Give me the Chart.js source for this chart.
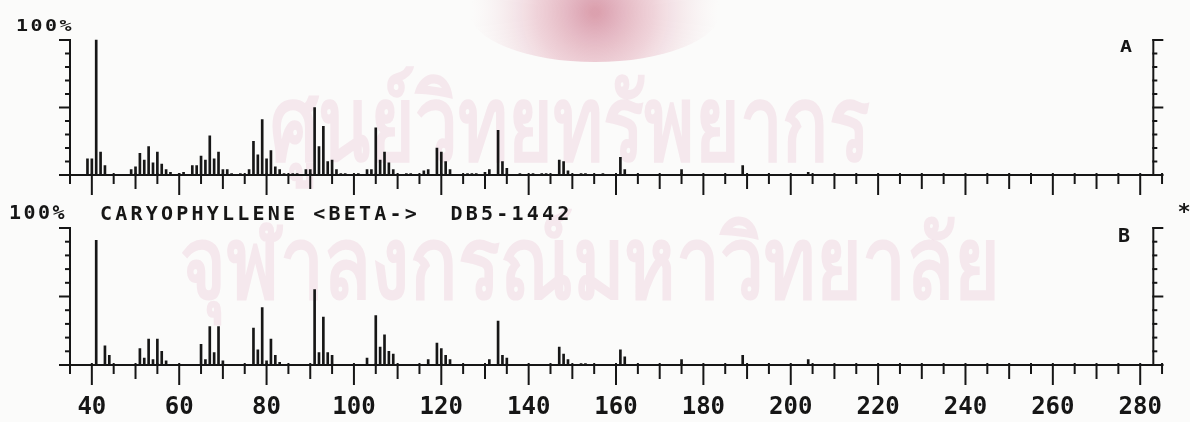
<!DOCTYPE html>
<html><head><meta charset="utf-8">
<script src="https://cdn.jsdelivr.net/npm/chart.js@4.4.1/dist/chart.umd.min.js"></script>
<style>
html,body{margin:0;padding:0;background:#fbfbfa;}
#wrap{position:relative;width:1190px;height:422px;overflow:hidden;}
canvas{display:block;}
</style></head><body>
<div id="wrap"><canvas id="c" width="1190" height="422"></canvas></div>
<script>
// ---- data ----
// panel A: sample spectrum (m/z, relative intensity %)
const mzA = [39,40,41,42,43,49,50,51,52,53,54,55,56,57,58,60,61,63,64,65,66,67,68,69,70,71,72,74,76,77,78,79,80,81,82,83,84,86,87,89,90,91,92,93,94,95,96,97,98,101,103,104,105,106,107,108,109,112,113,116,117,119,120,121,122,126,127,128,130,131,133,134,135,138,141,143,144,147,148,149,152,153,157,161,162,175,189,204];
const relA = [12,12,100,17,7,4,6,16,11,21,9,17,8,4,2,1,2,7,7,14,11,29,12,17,4,4,1,1,4,25,15,41,12,18,6,4,1,1,1,4,4,50,21,36,10,11,4,1,1,1,4,4,35,11,17,9,4,1,1,3,4,20,17,10,4,1,1,1,2,4,33,10,5,1,1,1,1,11,10,3,1,1,1,13,4,4,7,2];
// panel B: library spectrum CARYOPHYLLENE <BETA-> DB5-1442
const mzB = [41,43,44,51,52,53,54,55,56,57,65,66,67,68,69,70,77,78,79,80,81,82,83,91,92,93,94,95,103,105,106,107,108,109,117,119,120,121,122,131,133,134,135,147,148,149,152,153,161,162,175,189,204];
const relB = [91,14,7,12,5,19,4,19,10,3,15,4,28,9,28,3,27,11,42,3,19,7,2,55,9,35,9,7,5,36,13,22,10,8,4,16,12,7,4,4,32,7,5,13,8,4,1,1,11,6,4,7,4];
// axis tick labels
const xTickLabels = [40,60,80,100,120,140,160,180,200,220,240,260,280];
const yTickPercents = [0,10,20,30,40,50,60,70,80,90,100];
const xMinorStep = 5;
const titleB = 'CARYOPHYLLENE <BETA->  DB5-1442';
const watermark1 = 'ศูนย์วิทยทรัพยากร';
const watermark2 = 'จุฬาลงกรณ์มหาวิทยาลัย';

const INK = '#161616';
const MONO = '"DejaVu Sans Mono", "Liberation Mono", monospace';

function line(ctx, x1, y1, x2, y2) { ctx.beginPath(); ctx.moveTo(x1, y1); ctx.lineTo(x2, y2); ctx.stroke(); }
function txt(ctx, s, x, y, size, spacing, sy, align) {
  ctx.save();
  ctx.font = 'bold ' + size + 'px ' + MONO;
  ctx.letterSpacing = spacing + 'px';
  ctx.textAlign = align || 'left';
  ctx.textBaseline = 'middle';
  ctx.translate(x, y); ctx.scale(1, sy);
  ctx.fillStyle = INK;
  ctx.fillText(s, 0, 0);
  ctx.restore();
}
function fitText(ctx, s, cx, cy, w, h, color) {
  ctx.save();
  ctx.font = 'bold 100px "Noto Sans", "DejaVu Sans", sans-serif';
  ctx.textAlign = 'center'; ctx.textBaseline = 'middle';
  const m = ctx.measureText(s);
  ctx.translate(cx, cy); ctx.scale(w / m.width, h / 100);
  ctx.fillStyle = color;
  ctx.fillText(s, 0, 0);
  ctx.restore();
}

const decor = {
  id: 'decor',
  beforeDatasetsDraw(chart) {
    const ctx = chart.ctx;
    ctx.save();
    const g = ctx.createRadialGradient(595, 12, 4, 595, 12, 125);
    g.addColorStop(0, 'rgba(175,35,70,0.42)');
    g.addColorStop(0.45, 'rgba(205,95,125,0.26)');
    g.addColorStop(1, 'rgba(240,200,210,0)');
    ctx.fillStyle = g;
    ctx.beginPath(); ctx.ellipse(595, 12, 125, 50, 0, 0, Math.PI * 2); ctx.fill();
    fitText(ctx, watermark1, 570, 130, 600, 105, 'rgba(215,130,170,0.15)');
    fitText(ctx, watermark2, 590, 270, 820, 100, 'rgba(215,130,170,0.15)');
    ctx.restore();
  }
};

const frames = {
  id: 'frames',
  afterDatasetsDraw(chart) {
    const ctx = chart.ctx;
    const x = chart.scales.x;
    ctx.save();
    ctx.strokeStyle = INK; ctx.lineWidth = 2; ctx.lineCap = 'square';
    const L = x.getPixelForValue(x.min), R = x.getPixelForValue(x.max);
    [chart.scales.yA, chart.scales.yB].forEach(ys => {
      const y0 = ys.getPixelForValue(0), y100 = ys.getPixelForValue(100);
      line(ctx, L, y100, L, y0);
      line(ctx, R, y100, R, y0);
      line(ctx, L - 10, y0, R + 9, y0);
      yTickPercents.forEach(p => {
        const yy = ys.getPixelForValue(p);
        const long = p % 50 === 0;
        line(ctx, L - (long ? 10 : 4), yy, L, yy);
        line(ctx, R, yy, R + (long ? 9 : 3), yy);
      });
      for (let v = x.min; v <= x.max + 2; v += xMinorStep) {
        const xx = x.getPixelForValue(v);
        const len = v % 20 === 0 ? 19 : (v % 10 === 0 ? 13 : 8);
        line(ctx, xx, y0 - 1, xx, y0 + len);
      }
    });
    ctx.restore();
    // texts
    txt(ctx, '100%', 16, 27, 20, 2.5, 0.8);
    txt(ctx, 'A', 1126, 48, 20, 0, 0.8, 'center');
    txt(ctx, '100%', 9, 214, 20, 2.5, 1);
    txt(ctx, titleB, 100, 215, 20, 3.2, 1);
    txt(ctx, 'B', 1124, 237, 20, 0, 1, 'center');
    txt(ctx, '*', 1184, 213, 22, 0, 1, 'center');
  }
};

const barStyle = { backgroundColor: INK, barThickness: 2, grouped: false, borderWidth: 0 };
const chart = new Chart(document.getElementById('c'), {
  type: 'bar',
  data: {
    datasets: [
      Object.assign({ label: 'A', yAxisID: 'yA', data: mzA.map((m, i) => ({ x: m, y: relA[i] })) }, barStyle),
      Object.assign({ label: 'B', yAxisID: 'yB', data: mzB.map((m, i) => ({ x: m, y: relB[i] })) }, barStyle)
    ]
  },
  options: {
    responsive: false, animation: false, devicePixelRatio: 1,
    layout: { padding: { left: 70, right: 10, top: 39, bottom: 0 } },
    plugins: { legend: { display: false }, tooltip: { enabled: false } },
    scales: {
      x: {
        type: 'linear', min: 35, max: 283, offset: false,
        grid: { display: false, drawTicks: false }, border: { display: false },
        afterBuildTicks: s => { s.ticks = xTickLabels.map(v => ({ value: v })); },
        afterFit: s => { s.height = 57; },
        ticks: { color: INK, font: { family: MONO, size: 24, weight: 'bold' }, padding: 28, maxRotation: 0, autoSkip: false }
      },
      yA: { type: 'linear', display: false, min: -140.74, max: 100.74 },
      yB: { type: 'linear', display: false, min: 0, max: 237.96 }
    }
  },
  plugins: [decor, frames]
});
</script>
</body></html>
